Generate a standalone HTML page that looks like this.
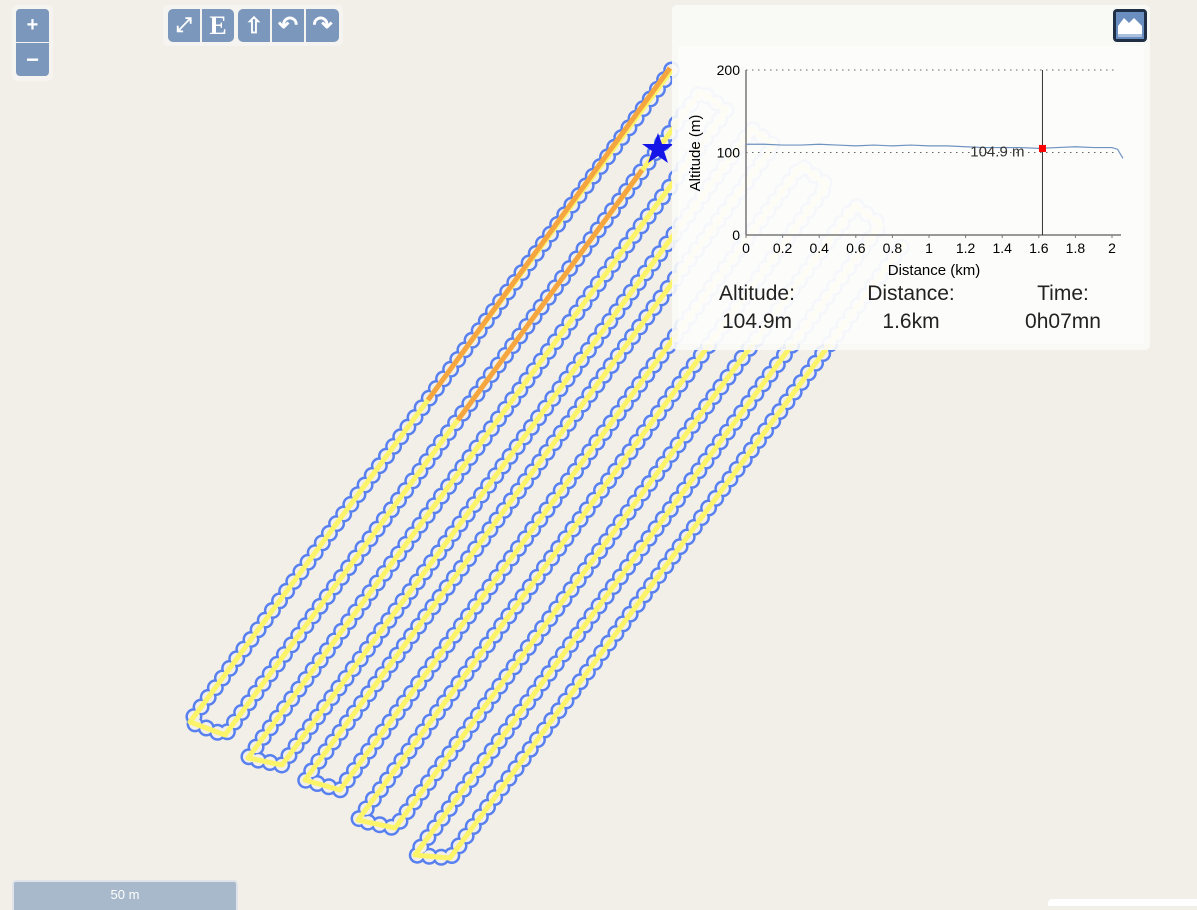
<!DOCTYPE html>
<html><head><meta charset="utf-8">
<style>
body{margin:0;width:1197px;height:906px;overflow:hidden;background:#f2efe9;font-family:"Liberation Sans",sans-serif;position:relative}
.btn{position:absolute;background:#7b98bc;color:#fff;display:flex;align-items:center;justify-content:center;font-weight:bold}
#panel{position:absolute;left:672px;top:5px;width:478px;height:345px;background:rgba(250,249,247,0.9);border-radius:5px}
#inner{position:absolute;left:678px;top:46px;width:466px;height:298px;background:rgba(255,255,255,0.55)}
.st{position:absolute;font-size:21px;color:#222;text-align:center;width:160px;line-height:28px}
</style></head><body>
<svg id="map" width="1197" height="906" style="position:absolute;left:0;top:0"></svg>

<div style="position:absolute;left:12px;top:5px;width:41px;height:76px;background:#f6f4f0;border-radius:5px"></div>
<div class="btn" style="left:16px;top:9px;width:33px;height:33px;border-radius:4px 4px 0 0;font-size:20px">+</div>
<div class="btn" style="left:16px;top:43px;width:33px;height:33px;border-radius:0 0 4px 4px;font-size:22px">−</div>

<div style="position:absolute;left:163px;top:5px;width:180px;height:41px;background:#f6f4f0;border-radius:5px"></div>
<div class="btn" style="left:168px;top:9px;width:32px;height:33px;border-radius:5px 0 0 5px;font-size:20px">⤢</div>
<div class="btn" style="left:202px;top:9px;width:32px;height:33px;border-radius:0 5px 5px 0;font-family:'Liberation Serif',serif;font-size:26px">E</div>
<div class="btn" style="left:238px;top:9px;width:32px;height:33px;border-radius:5px 0 0 5px;font-size:22px">⇧</div>
<div class="btn" style="left:272px;top:9px;width:32px;height:33px;font-size:24px">↶</div>
<div class="btn" style="left:306px;top:9px;width:33px;height:33px;border-radius:0 5px 5px 0;font-size:24px">↷</div>

<div style="position:absolute;left:12px;top:880px;width:226px;height:30px;background:#a8b9cb;border:2px solid #e0e4ea;border-bottom:none;border-radius:4px 4px 0 0;box-sizing:border-box;color:#fff;font-size:13px;text-align:center;line-height:26px">50 m</div>
<div style="position:absolute;left:1048px;top:899px;width:149px;height:7px;background:#fff;border-radius:4px 0 0 0"></div>

<div id="panel"></div>
<div id="inner"></div>
<div style="position:absolute;left:1113px;top:9px;width:34px;height:33px;background:#1f2f45;border-radius:4px;box-sizing:border-box;padding:3px">
<svg width="28" height="27"><rect width="28" height="27" fill="#6a8ec0"/><path d="M2 24 L2 14 L8 6 L13 11 L18 6 L26 14 L26 24 Z" fill="#fff"/><rect x="2" y="22" width="24" height="3" fill="#a9c0de"/></svg></div>
<svg id="chart" width="1197" height="906" style="position:absolute;left:0;top:0;pointer-events:none"></svg>

<div class="st" style="left:677px;top:280px">Altitude:<br>104.9m</div>
<div class="st" style="left:831px;top:280px">Distance:<br>1.6km</div>
<div class="st" style="left:983px;top:280px">Time:<br>0h07mn</div>

<script>
// ---- map track ----
const laneBottoms = [[190,722],[225,735],[248,758],[282,765],[305,780],[340,790],[358,820],[395,828],[415,855],[450,858]];
const NS='http://www.w3.org/2000/svg';
const map=document.getElementById('map');
const d=[0.594,-0.804], P=[670,68];
let pts=[];
laneBottoms.forEach((b,i)=>{
  const L=(P[0]-b[0])*d[0]+(P[1]-b[1])*d[1];
  const top=[b[0]+d[0]*L,b[1]+d[1]*L];
  if(i%2===0){pts.push(top,b);}else{pts.push(b,top);}
});
const ptsStr=pts.map(p=>p[0].toFixed(1)+','+p[1].toFixed(1)).join(' ');
function pl(attrs,name){const e=document.createElementNS(NS,'polyline');e.setAttribute('points',ptsStr);e.setAttribute('fill','none');
 for(const k in attrs)e.setAttribute(k,attrs[k]);
 
 
 map.appendChild(e);}
pl({stroke:'#3d6cf0','stroke-width':17,'stroke-dasharray':'0 12','stroke-linecap':'round','stroke-linejoin':'round',opacity:0.85},'track-outline');
pl({stroke:'#f2efe9','stroke-width':12,'stroke-dasharray':'0 12','stroke-linecap':'round','stroke-linejoin':'round'},'track-outline-inner');
pl({stroke:'#fbf36a','stroke-width':5,'stroke-linejoin':'round'},'track-line');
function seg(a,b,name){const e=document.createElementNS(NS,'line');e.setAttribute('x1',a[0]);e.setAttribute('y1',a[1]);e.setAttribute('x2',b[0]);e.setAttribute('y2',b[1]);e.setAttribute('stroke','#f6a640');e.setAttribute('stroke-width',5);
 
 
 map.appendChild(e);}
seg([670,68],[428,400],'track-orange-1');
seg([642,170],[458,420],'track-orange-2');
const star=document.createElementNS(NS,'polygon');
star.setAttribute('points','658,133 662,144 674,144 664,151 668,163 658,156 648,163 652,151 642,144 654,144');
star.setAttribute('fill','#1515e8');


map.appendChild(star);

// ---- altitude chart ----
const dist=[0,0.1,0.2,0.3,0.4,0.5,0.6,0.7,0.8,0.9,1.0,1.1,1.2,1.3,1.4,1.5,1.6,1.7,1.8,1.9,2.0,2.03,2.06];
const alt=[110,110,109,109,110,109,108,109,108,109,108,108,107,106,106,106,105,106,107,106,106,104,93];
const xTicks=[0,0.2,0.4,0.6,0.8,1,1.2,1.4,1.6,1.8,2];
const yTicks=[0,100,200];
const cursorDist=1.62, cursorAlt=104.9;
const X=v=>746+v*183, Y=v=>235-v*0.825;
const c=document.getElementById('chart');
function el(tag,attrs,name,text){const e=document.createElementNS(NS,tag);for(const k in attrs)e.setAttribute(k,attrs[k]);if(text!==undefined)e.textContent=text;
 
 
 c.appendChild(e);return e;}
yTicks.forEach(t=>{
  if(t>0)el('line',{x1:X(0),x2:1118,y1:Y(t),y2:Y(t),stroke:'#666','stroke-dasharray':'1.5 4.5'},'y-gridline');
  el('text',{x:X(0)-6,y:Y(t)+5,'text-anchor':'end','font-size':14,fill:'#000','font-family':'Liberation Sans'},'y-tick-label',t);
});
el('line',{x1:X(0),x2:X(0),y1:Y(200),y2:Y(0),stroke:'#777','stroke-width':1.5},'y-axis');
el('line',{x1:X(0),x2:1121,y1:Y(0),y2:Y(0),stroke:'#777','stroke-width':1.5},'x-axis');
xTicks.forEach(t=>{
  el('line',{x1:X(t),x2:X(t),y1:Y(0),y2:Y(0)+3,stroke:'#777'},'x-tick');
  el('text',{x:X(t),y:Y(0)+18,'text-anchor':'middle','font-size':14,fill:'#000','font-family':'Liberation Sans'},'x-tick-label',t);
});
el('text',{x:934,y:275,'text-anchor':'middle','font-size':15,fill:'#000','font-family':'Liberation Sans'},'x-axis-title','Distance (km)');
el('text',{x:700,y:153,'text-anchor':'middle','font-size':15,fill:'#000','font-family':'Liberation Sans',transform:'rotate(-90 700 153)'},'y-axis-title','Altitude (m)');
el('polyline',{points:dist.map((v,i)=>X(v)+','+Y(alt[i])).join(' '),fill:'none',stroke:'#6f93c0','stroke-width':1.2},'altitude-line');
el('line',{x1:X(cursorDist),x2:X(cursorDist),y1:Y(200),y2:Y(0),stroke:'#333','stroke-width':1},'cursor-line');
el('rect',{x:X(cursorDist)-3.5,y:Y(cursorAlt)-3.5,width:7,height:7,fill:'#f00'},'cursor-point');
el('text',{x:X(cursorDist)-18,y:Y(cursorAlt)+8,'text-anchor':'end','font-size':15,fill:'#333','font-family':'Liberation Sans'},'cursor-value-label','104.9 m');
</script>
</body></html>
